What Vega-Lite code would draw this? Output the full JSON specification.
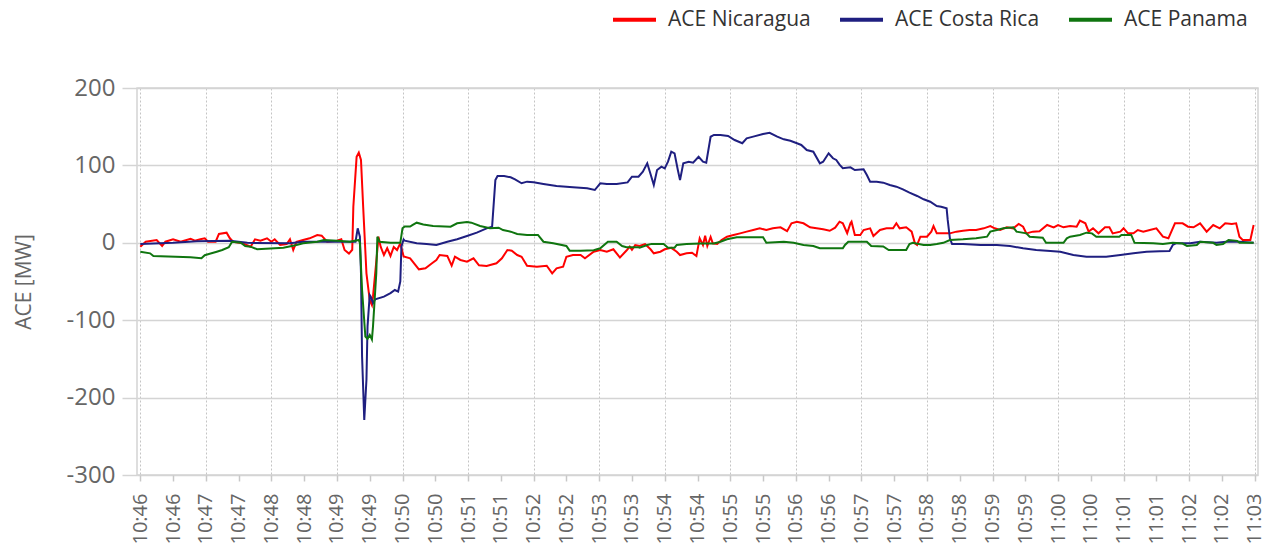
{
  "$schema": "https://vega.github.io/schema/vega-lite/v6.json",
  "width": 1121,
  "height": 387,
  "autosize": "none",
  "padding": {"left": 137, "top": 88, "right": 13, "bottom": 75},
  "background": "white",
  "config": {
    "font": "Open Sans",
    "view": {"stroke": "#d4d4d4", "strokeWidth": 1.5}
  },
  "datasets": {
    "nic": [
      {"t":"2024-01-01T10:46:00","v":-5},{"t":"2024-01-01T10:46:05","v":1.4},{"t":"2024-01-01T10:46:15","v":3.6},{"t":"2024-01-01T10:46:20","v":-4.1},{"t":"2024-01-01T10:46:23","v":1.4},{"t":"2024-01-01T10:46:30","v":4.5},{"t":"2024-01-01T10:46:37","v":1.4},{"t":"2024-01-01T10:46:46","v":5.3},{"t":"2024-01-01T10:46:50","v":2.7},{"t":"2024-01-01T10:46:55","v":4.5},{"t":"2024-01-01T10:46:59","v":5.8},
      {"t":"2024-01-01T10:47:02","v":1.4},{"t":"2024-01-01T10:47:09","v":1.4},{"t":"2024-01-01T10:47:12","v":11.4},{"t":"2024-01-01T10:47:19","v":13.1},{"t":"2024-01-01T10:47:22","v":5.8},{"t":"2024-01-01T10:47:25","v":1.4},{"t":"2024-01-01T10:47:34","v":-0.7},{"t":"2024-01-01T10:47:41","v":-5},{"t":"2024-01-01T10:47:45","v":4.5},{"t":"2024-01-01T10:47:50","v":2.7},{"t":"2024-01-01T10:47:56","v":5.8},
      {"t":"2024-01-01T10:48:00","v":1.4},{"t":"2024-01-01T10:48:03","v":4.5},{"t":"2024-01-01T10:48:08","v":-2.8},{"t":"2024-01-01T10:48:14","v":-1.6},{"t":"2024-01-01T10:48:17","v":4.5},{"t":"2024-01-01T10:48:20","v":-9.3},{"t":"2024-01-01T10:48:23","v":1.4},{"t":"2024-01-01T10:48:29","v":3.6},{"t":"2024-01-01T10:48:35","v":5.8},{"t":"2024-01-01T10:48:42","v":10.1},{"t":"2024-01-01T10:48:46","v":9.2},{"t":"2024-01-01T10:48:51","v":1.4},
      {"t":"2024-01-01T10:49:00","v":2.7},{"t":"2024-01-01T10:49:04","v":4.5},{"t":"2024-01-01T10:49:07","v":-9.3},{"t":"2024-01-01T10:49:11","v":-14},{"t":"2024-01-01T10:49:14","v":-9},{"t":"2024-01-01T10:49:15","v":46.6},{"t":"2024-01-01T10:49:18","v":111},{"t":"2024-01-01T10:49:20","v":116.4},{"t":"2024-01-01T10:49:22","v":107},{"t":"2024-01-01T10:49:24","v":46.6},{"t":"2024-01-01T10:49:27","v":-39.4},{"t":"2024-01-01T10:49:30","v":-73.9},{"t":"2024-01-01T10:49:32","v":-80.4},{"t":"2024-01-01T10:49:33","v":-69.6},{"t":"2024-01-01T10:49:37","v":-9},{"t":"2024-01-01T10:49:38","v":7.9},{"t":"2024-01-01T10:49:40","v":-5},{"t":"2024-01-01T10:49:43","v":-15.8},{"t":"2024-01-01T10:49:46","v":-7},{"t":"2024-01-01T10:49:49","v":-17},{"t":"2024-01-01T10:49:52","v":-5.4},{"t":"2024-01-01T10:49:55","v":-9.3},{"t":"2024-01-01T10:49:58","v":-0.7},
      {"t":"2024-01-01T10:50:01","v":-17.5},{"t":"2024-01-01T10:50:07","v":-20},{"t":"2024-01-01T10:50:15","v":-34.3},{"t":"2024-01-01T10:50:21","v":-33},{"t":"2024-01-01T10:50:27","v":-26.5},{"t":"2024-01-01T10:50:31","v":-22.2},{"t":"2024-01-01T10:50:34","v":-15.8},{"t":"2024-01-01T10:50:41","v":-17},{"t":"2024-01-01T10:50:45","v":-29.6},{"t":"2024-01-01T10:50:48","v":-18},{"t":"2024-01-01T10:50:53","v":-22.2},{"t":"2024-01-01T10:50:59","v":-24.4},
      {"t":"2024-01-01T10:51:05","v":-20},{"t":"2024-01-01T10:51:10","v":-29},{"t":"2024-01-01T10:51:17","v":-30},{"t":"2024-01-01T10:51:26","v":-26.5},{"t":"2024-01-01T10:51:31","v":-20},{"t":"2024-01-01T10:51:36","v":-9.3},{"t":"2024-01-01T10:51:40","v":-10.2},{"t":"2024-01-01T10:51:45","v":-15.8},{"t":"2024-01-01T10:51:49","v":-18},{"t":"2024-01-01T10:51:54","v":-29.6},
      {"t":"2024-01-01T10:52:03","v":-30.9},{"t":"2024-01-01T10:52:12","v":-29.6},{"t":"2024-01-01T10:52:17","v":-39.4},{"t":"2024-01-01T10:52:21","v":-33},{"t":"2024-01-01T10:52:27","v":-30.9},{"t":"2024-01-01T10:52:30","v":-18},{"t":"2024-01-01T10:52:36","v":-15.8},{"t":"2024-01-01T10:52:43","v":-15.8},{"t":"2024-01-01T10:52:47","v":-20},{"t":"2024-01-01T10:52:55","v":-11.5},
      {"t":"2024-01-01T10:53:01","v":-9.3},{"t":"2024-01-01T10:53:07","v":-11.5},{"t":"2024-01-01T10:53:13","v":-8.4},{"t":"2024-01-01T10:53:19","v":-19},{"t":"2024-01-01T10:53:25","v":-10},{"t":"2024-01-01T10:53:28","v":-5},{"t":"2024-01-01T10:53:30","v":-9},{"t":"2024-01-01T10:53:33","v":-3},{"t":"2024-01-01T10:53:37","v":-4},{"t":"2024-01-01T10:53:42","v":-1.6},{"t":"2024-01-01T10:53:47","v":-8.4},{"t":"2024-01-01T10:53:50","v":-13.6},{"t":"2024-01-01T10:53:56","v":-11.5},
      {"t":"2024-01-01T10:54:00","v":-8.4},{"t":"2024-01-01T10:54:06","v":-6.5},{"t":"2024-01-01T10:54:11","v":-11.5},{"t":"2024-01-01T10:54:14","v":-15.8},{"t":"2024-01-01T10:54:20","v":-13.6},{"t":"2024-01-01T10:54:25","v":-12.9},{"t":"2024-01-01T10:54:29","v":-17},{"t":"2024-01-01T10:54:32","v":5.8},{"t":"2024-01-01T10:54:35","v":-2.8},{"t":"2024-01-01T10:54:37","v":9.2},{"t":"2024-01-01T10:54:39","v":-4.1},{"t":"2024-01-01T10:54:42","v":7.5},{"t":"2024-01-01T10:54:44","v":-0.7},{"t":"2024-01-01T10:54:48","v":-1.6},{"t":"2024-01-01T10:54:52","v":3.6},{"t":"2024-01-01T10:54:57","v":7.9},
      {"t":"2024-01-01T10:55:03","v":10},{"t":"2024-01-01T10:55:09","v":12.2},{"t":"2024-01-01T10:55:15","v":14.4},{"t":"2024-01-01T10:55:21","v":16.5},{"t":"2024-01-01T10:55:27","v":18.7},{"t":"2024-01-01T10:55:33","v":16.5},{"t":"2024-01-01T10:55:39","v":18.7},{"t":"2024-01-01T10:55:46","v":20},{"t":"2024-01-01T10:55:52","v":15},{"t":"2024-01-01T10:55:56","v":25.2},
      {"t":"2024-01-01T10:56:01","v":27.3},{"t":"2024-01-01T10:56:07","v":25.2},{"t":"2024-01-01T10:56:13","v":20},{"t":"2024-01-01T10:56:19","v":18.7},{"t":"2024-01-01T10:56:25","v":17.4},{"t":"2024-01-01T10:56:31","v":15.5},{"t":"2024-01-01T10:56:36","v":19.5},{"t":"2024-01-01T10:56:40","v":27.3},{"t":"2024-01-01T10:56:43","v":25.2},{"t":"2024-01-01T10:56:47","v":12.5},{"t":"2024-01-01T10:56:50","v":25.2},{"t":"2024-01-01T10:56:51","v":27.3},{"t":"2024-01-01T10:56:54","v":10.1},{"t":"2024-01-01T10:56:59","v":10.1},
      {"t":"2024-01-01T10:57:02","v":16.5},{"t":"2024-01-01T10:57:08","v":18.7},{"t":"2024-01-01T10:57:11","v":8.8},{"t":"2024-01-01T10:57:17","v":16.5},{"t":"2024-01-01T10:57:23","v":18.7},{"t":"2024-01-01T10:57:29","v":18.7},{"t":"2024-01-01T10:57:32","v":25.2},{"t":"2024-01-01T10:57:35","v":18.7},{"t":"2024-01-01T10:57:41","v":20},{"t":"2024-01-01T10:57:46","v":14.4},{"t":"2024-01-01T10:57:49","v":-0.7},{"t":"2024-01-01T10:57:51","v":-2.8},{"t":"2024-01-01T10:57:54","v":7.9},
      {"t":"2024-01-01T10:58:00","v":7.9},{"t":"2024-01-01T10:58:04","v":14.4},{"t":"2024-01-01T10:58:06","v":21.7},{"t":"2024-01-01T10:58:09","v":12.2},{"t":"2024-01-01T10:58:15","v":12.2},{"t":"2024-01-01T10:58:21","v":12.2},{"t":"2024-01-01T10:58:27","v":14.4},{"t":"2024-01-01T10:58:33","v":15.6},{"t":"2024-01-01T10:58:39","v":16.5},{"t":"2024-01-01T10:58:45","v":16.5},{"t":"2024-01-01T10:58:52","v":18.7},{"t":"2024-01-01T10:58:58","v":21.7},
      {"t":"2024-01-01T10:59:02","v":18.7},{"t":"2024-01-01T10:59:07","v":16.5},{"t":"2024-01-01T10:59:13","v":20},{"t":"2024-01-01T10:59:19","v":18.7},{"t":"2024-01-01T10:59:24","v":24.3},{"t":"2024-01-01T10:59:28","v":20.8},{"t":"2024-01-01T10:59:31","v":12.2},{"t":"2024-01-01T10:59:37","v":14.4},{"t":"2024-01-01T10:59:43","v":15},{"t":"2024-01-01T10:59:50","v":23},{"t":"2024-01-01T10:59:56","v":20},
      {"t":"2024-01-01T11:00:00","v":23},{"t":"2024-01-01T11:00:05","v":20},{"t":"2024-01-01T11:00:11","v":21.7},{"t":"2024-01-01T11:00:17","v":20.8},{"t":"2024-01-01T11:00:20","v":28.6},{"t":"2024-01-01T11:00:25","v":25.2},{"t":"2024-01-01T11:00:28","v":14.4},{"t":"2024-01-01T11:00:32","v":18.7},{"t":"2024-01-01T11:00:37","v":12.2},{"t":"2024-01-01T11:00:43","v":20},{"t":"2024-01-01T11:00:47","v":20},{"t":"2024-01-01T11:00:50","v":12.2},{"t":"2024-01-01T11:00:57","v":14.4},
      {"t":"2024-01-01T11:01:00","v":18.7},{"t":"2024-01-01T11:01:04","v":12.2},{"t":"2024-01-01T11:01:09","v":12.2},{"t":"2024-01-01T11:01:13","v":16.5},{"t":"2024-01-01T11:01:18","v":14.4},{"t":"2024-01-01T11:01:24","v":16.5},{"t":"2024-01-01T11:01:30","v":18.7},{"t":"2024-01-01T11:01:36","v":7.9},{"t":"2024-01-01T11:01:41","v":5.8},{"t":"2024-01-01T11:01:47","v":25.2},{"t":"2024-01-01T11:01:54","v":25.2},{"t":"2024-01-01T11:01:59","v":20.8},
      {"t":"2024-01-01T11:02:04","v":20},{"t":"2024-01-01T11:02:10","v":25.2},{"t":"2024-01-01T11:02:16","v":14.4},{"t":"2024-01-01T11:02:22","v":23},{"t":"2024-01-01T11:02:28","v":18.7},{"t":"2024-01-01T11:02:33","v":25.2},{"t":"2024-01-01T11:02:39","v":24.3},{"t":"2024-01-01T11:02:43","v":25.2},{"t":"2024-01-01T11:02:46","v":7.9},{"t":"2024-01-01T11:02:49","v":3.6},{"t":"2024-01-01T11:02:56","v":3.6},{"t":"2024-01-01T11:02:59","v":23}
    ],
    "cr": [
      {"t":"2024-01-01T10:46:00","v":-1.6},{"t":"2024-01-01T10:46:30","v":0},{"t":"2024-01-01T10:46:52","v":2},{"t":"2024-01-01T10:47:22","v":2.7},{"t":"2024-01-01T10:47:38","v":0},{"t":"2024-01-01T10:48:17","v":-0.7},{"t":"2024-01-01T10:48:29","v":1.4},{"t":"2024-01-01T10:48:53","v":1.4},{"t":"2024-01-01T10:49:12","v":1.4},{"t":"2024-01-01T10:49:17","v":1.4},{"t":"2024-01-01T10:49:19","v":18.7},{"t":"2024-01-01T10:49:21","v":7.9},{"t":"2024-01-01T10:49:22","v":-39.5},{"t":"2024-01-01T10:49:23","v":-147},{"t":"2024-01-01T10:49:25","v":-229},{"t":"2024-01-01T10:49:27","v":-177},{"t":"2024-01-01T10:49:28","v":-108},{"t":"2024-01-01T10:49:30","v":-67.4},{"t":"2024-01-01T10:49:31","v":-69.6},{"t":"2024-01-01T10:49:33","v":-78},{"t":"2024-01-01T10:49:35","v":-73},{"t":"2024-01-01T10:49:43","v":-69.6},{"t":"2024-01-01T10:49:49","v":-65},{"t":"2024-01-01T10:49:53","v":-61},{"t":"2024-01-01T10:49:56","v":-63},{"t":"2024-01-01T10:49:58","v":-50},{"t":"2024-01-01T10:49:59","v":-5},
      {"t":"2024-01-01T10:50:01","v":4.3},{"t":"2024-01-01T10:50:02","v":2.7},{"t":"2024-01-01T10:50:13","v":-0.7},{"t":"2024-01-01T10:50:22","v":-1.6},{"t":"2024-01-01T10:50:31","v":-2.8},{"t":"2024-01-01T10:50:41","v":1.4},{"t":"2024-01-01T10:50:50","v":4.5},{"t":"2024-01-01T10:50:59","v":8.8},{"t":"2024-01-01T10:51:08","v":13.1},{"t":"2024-01-01T10:51:17","v":18.7},{"t":"2024-01-01T10:51:22","v":20.8},{"t":"2024-01-01T10:51:25","v":81},{"t":"2024-01-01T10:51:27","v":86.3},{"t":"2024-01-01T10:51:33","v":86.3},{"t":"2024-01-01T10:51:39","v":84.6},{"t":"2024-01-01T10:51:43","v":82},{"t":"2024-01-01T10:51:49","v":76.9},{"t":"2024-01-01T10:51:54","v":79},
      {"t":"2024-01-01T10:52:00","v":78.1},{"t":"2024-01-01T10:52:09","v":76},{"t":"2024-01-01T10:52:21","v":73.4},{"t":"2024-01-01T10:52:36","v":71.7},{"t":"2024-01-01T10:52:49","v":70.4},{"t":"2024-01-01T10:52:56","v":68.2},{"t":"2024-01-01T10:53:01","v":76.9},{"t":"2024-01-01T10:53:07","v":76},{"t":"2024-01-01T10:53:16","v":76},{"t":"2024-01-01T10:53:26","v":78},{"t":"2024-01-01T10:53:30","v":85.4},{"t":"2024-01-01T10:53:36","v":85.4},{"t":"2024-01-01T10:53:40","v":91.9},{"t":"2024-01-01T10:53:44","v":102.7},{"t":"2024-01-01T10:53:47","v":88.8},{"t":"2024-01-01T10:53:50","v":74.7},{"t":"2024-01-01T10:53:53","v":94},{"t":"2024-01-01T10:53:57","v":98.3},
      {"t":"2024-01-01T10:54:00","v":96.2},{"t":"2024-01-01T10:54:03","v":104.8},{"t":"2024-01-01T10:54:06","v":117.7},{"t":"2024-01-01T10:54:09","v":115.6},{"t":"2024-01-01T10:54:12","v":94},{"t":"2024-01-01T10:54:14","v":81},{"t":"2024-01-01T10:54:17","v":102.7},{"t":"2024-01-01T10:54:22","v":104.8},{"t":"2024-01-01T10:54:26","v":103.5},{"t":"2024-01-01T10:54:31","v":111.2},{"t":"2024-01-01T10:54:35","v":104.8},{"t":"2024-01-01T10:54:38","v":103.5},{"t":"2024-01-01T10:54:42","v":137},{"t":"2024-01-01T10:54:45","v":139.3},{"t":"2024-01-01T10:54:51","v":139.3},{"t":"2024-01-01T10:54:58","v":138},
      {"t":"2024-01-01T10:55:04","v":132.8},{"t":"2024-01-01T10:55:11","v":128.6},{"t":"2024-01-01T10:55:15","v":135},{"t":"2024-01-01T10:55:21","v":137.2},{"t":"2024-01-01T10:55:30","v":140.6},{"t":"2024-01-01T10:55:36","v":142.2},{"t":"2024-01-01T10:55:43","v":137.2},{"t":"2024-01-01T10:55:49","v":133.7},{"t":"2024-01-01T10:55:55","v":131.9},
      {"t":"2024-01-01T10:56:01","v":128.6},{"t":"2024-01-01T10:56:05","v":126.4},{"t":"2024-01-01T10:56:10","v":119.9},{"t":"2024-01-01T10:56:16","v":117.7},{"t":"2024-01-01T10:56:22","v":102.7},{"t":"2024-01-01T10:56:25","v":104.8},{"t":"2024-01-01T10:56:30","v":115.6},{"t":"2024-01-01T10:56:34","v":109.2},{"t":"2024-01-01T10:56:37","v":107},{"t":"2024-01-01T10:56:40","v":101},{"t":"2024-01-01T10:56:43","v":96.3},{"t":"2024-01-01T10:56:50","v":97.5},{"t":"2024-01-01T10:56:54","v":94},
      {"t":"2024-01-01T10:57:02","v":94.9},{"t":"2024-01-01T10:57:05","v":87.6},{"t":"2024-01-01T10:57:08","v":79},{"t":"2024-01-01T10:57:14","v":79},{"t":"2024-01-01T10:57:20","v":77.7},{"t":"2024-01-01T10:57:26","v":74.7},{"t":"2024-01-01T10:57:32","v":72.5},{"t":"2024-01-01T10:57:38","v":69.1},{"t":"2024-01-01T10:57:44","v":64.8},{"t":"2024-01-01T10:57:51","v":60.5},{"t":"2024-01-01T10:57:57","v":56.2},
      {"t":"2024-01-01T10:58:03","v":53.1},{"t":"2024-01-01T10:58:09","v":47.5},{"t":"2024-01-01T10:58:13","v":46.6},{"t":"2024-01-01T10:58:18","v":44.5},{"t":"2024-01-01T10:58:19","v":29.5},{"t":"2024-01-01T10:58:21","v":5.8},{"t":"2024-01-01T10:58:23","v":-1.6},{"t":"2024-01-01T10:58:33","v":-1.6},{"t":"2024-01-01T10:58:49","v":-2.8},
      {"t":"2024-01-01T10:59:04","v":-2.8},{"t":"2024-01-01T10:59:16","v":-4.1},{"t":"2024-01-01T10:59:28","v":-7.1},{"t":"2024-01-01T10:59:40","v":-9.3},{"t":"2024-01-01T10:59:53","v":-10.6},
      {"t":"2024-01-01T11:00:02","v":-11.5},{"t":"2024-01-01T11:00:14","v":-15.8},{"t":"2024-01-01T11:00:26","v":-18},{"t":"2024-01-01T11:00:44","v":-18},{"t":"2024-01-01T11:00:57","v":-15.8},
      {"t":"2024-01-01T11:01:09","v":-13.6},{"t":"2024-01-01T11:01:21","v":-11.5},{"t":"2024-01-01T11:01:33","v":-11},{"t":"2024-01-01T11:01:42","v":-10.6},{"t":"2024-01-01T11:01:45","v":-2.8},{"t":"2024-01-01T11:01:48","v":-0.7},
      {"t":"2024-01-01T11:02:01","v":-0.7},{"t":"2024-01-01T11:02:10","v":1.4},{"t":"2024-01-01T11:02:25","v":0},{"t":"2024-01-01T11:02:34","v":1.4},{"t":"2024-01-01T11:02:46","v":1.4},{"t":"2024-01-01T11:02:59","v":0}
    ],
    "pa": [
      {"t":"2024-01-01T10:46:00","v":-11.5},{"t":"2024-01-01T10:46:09","v":-13.6},{"t":"2024-01-01T10:46:12","v":-17},{"t":"2024-01-01T10:46:46","v":-18.8},{"t":"2024-01-01T10:46:56","v":-20},{"t":"2024-01-01T10:46:59","v":-16},
      {"t":"2024-01-01T10:47:10","v":-11.5},{"t":"2024-01-01T10:47:15","v":-9.3},{"t":"2024-01-01T10:47:21","v":-5.8},{"t":"2024-01-01T10:47:24","v":1.4},{"t":"2024-01-01T10:47:32","v":0},{"t":"2024-01-01T10:47:36","v":-4.1},{"t":"2024-01-01T10:47:41","v":-5},{"t":"2024-01-01T10:47:47","v":-8.4},{"t":"2024-01-01T10:47:59","v":-7.5},
      {"t":"2024-01-01T10:48:11","v":-6.3},{"t":"2024-01-01T10:48:23","v":-2.8},{"t":"2024-01-01T10:48:29","v":-0.7},{"t":"2024-01-01T10:48:42","v":1.4},{"t":"2024-01-01T10:48:48","v":3.6},
      {"t":"2024-01-01T10:49:00","v":2.5},{"t":"2024-01-01T10:49:12","v":1.4},{"t":"2024-01-01T10:49:20","v":3.6},{"t":"2024-01-01T10:49:21","v":0},{"t":"2024-01-01T10:49:23","v":-61},{"t":"2024-01-01T10:49:26","v":-121},{"t":"2024-01-01T10:49:28","v":-124},{"t":"2024-01-01T10:49:30","v":-119},{"t":"2024-01-01T10:49:32","v":-125},{"t":"2024-01-01T10:49:33","v":-108},{"t":"2024-01-01T10:49:36","v":-39.5},{"t":"2024-01-01T10:49:37","v":7.9},{"t":"2024-01-01T10:49:39","v":1.4},{"t":"2024-01-01T10:49:49","v":0},{"t":"2024-01-01T10:49:58","v":0},
      {"t":"2024-01-01T10:50:00","v":18.7},{"t":"2024-01-01T10:50:02","v":21.2},{"t":"2024-01-01T10:50:07","v":21},{"t":"2024-01-01T10:50:09","v":22.8},{"t":"2024-01-01T10:50:13","v":26},{"t":"2024-01-01T10:50:19","v":23.7},{"t":"2024-01-01T10:50:28","v":21.7},{"t":"2024-01-01T10:50:44","v":20.8},{"t":"2024-01-01T10:50:50","v":25.2},{"t":"2024-01-01T10:50:59","v":26.9},
      {"t":"2024-01-01T10:51:03","v":26},{"t":"2024-01-01T10:51:11","v":21.7},{"t":"2024-01-01T10:51:20","v":18.7},{"t":"2024-01-01T10:51:28","v":19.5},{"t":"2024-01-01T10:51:32","v":16.5},{"t":"2024-01-01T10:51:39","v":14.4},{"t":"2024-01-01T10:51:45","v":11.4},{"t":"2024-01-01T10:51:54","v":10.1},
      {"t":"2024-01-01T10:52:04","v":10.1},{"t":"2024-01-01T10:52:09","v":1.4},{"t":"2024-01-01T10:52:18","v":-0.7},{"t":"2024-01-01T10:52:30","v":-4.1},{"t":"2024-01-01T10:52:33","v":-10.2},{"t":"2024-01-01T10:52:43","v":-10.2},{"t":"2024-01-01T10:52:55","v":-9.5},
      {"t":"2024-01-01T10:53:01","v":-7.1},{"t":"2024-01-01T10:53:08","v":1.4},{"t":"2024-01-01T10:53:16","v":1.4},{"t":"2024-01-01T10:53:21","v":-4.1},{"t":"2024-01-01T10:53:25","v":-5.8},{"t":"2024-01-01T10:53:36","v":-5.8},{"t":"2024-01-01T10:53:37","v":-6.3},{"t":"2024-01-01T10:53:44","v":-2.8},{"t":"2024-01-01T10:53:48","v":-1.4},{"t":"2024-01-01T10:53:59","v":-1.6},
      {"t":"2024-01-01T10:54:03","v":-6.3},{"t":"2024-01-01T10:54:09","v":-6.3},{"t":"2024-01-01T10:54:11","v":-2.8},{"t":"2024-01-01T10:54:20","v":-1.6},{"t":"2024-01-01T10:54:33","v":-1},{"t":"2024-01-01T10:54:45","v":-1},{"t":"2024-01-01T10:54:51","v":1.4},{"t":"2024-01-01T10:54:57","v":4.5},
      {"t":"2024-01-01T10:55:06","v":7.1},{"t":"2024-01-01T10:55:30","v":7.1},{"t":"2024-01-01T10:55:33","v":0},{"t":"2024-01-01T10:55:49","v":1.4},{"t":"2024-01-01T10:55:58","v":0},
      {"t":"2024-01-01T10:56:07","v":-2.8},{"t":"2024-01-01T10:56:16","v":-4.1},{"t":"2024-01-01T10:56:22","v":-7.1},{"t":"2024-01-01T10:56:43","v":-7.1},{"t":"2024-01-01T10:56:45","v":-2.8},{"t":"2024-01-01T10:56:48","v":1.4},
      {"t":"2024-01-01T10:57:05","v":1.4},{"t":"2024-01-01T10:57:09","v":-4.1},{"t":"2024-01-01T10:57:20","v":-4.8},{"t":"2024-01-01T10:57:25","v":-9.3},{"t":"2024-01-01T10:57:41","v":-9.3},{"t":"2024-01-01T10:57:44","v":-1.6},{"t":"2024-01-01T10:57:47","v":0},{"t":"2024-01-01T10:57:57","v":-2.8},
      {"t":"2024-01-01T10:58:03","v":-2.8},{"t":"2024-01-01T10:58:09","v":-1.6},{"t":"2024-01-01T10:58:15","v":0},{"t":"2024-01-01T10:58:21","v":3.6},{"t":"2024-01-01T10:58:33","v":4.5},{"t":"2024-01-01T10:58:45","v":5.8},{"t":"2024-01-01T10:58:55","v":7.9},{"t":"2024-01-01T10:58:58","v":14.4},
      {"t":"2024-01-01T10:59:04","v":16.5},{"t":"2024-01-01T10:59:10","v":18.7},{"t":"2024-01-01T10:59:19","v":20},{"t":"2024-01-01T10:59:22","v":14.4},{"t":"2024-01-01T10:59:31","v":12.2},{"t":"2024-01-01T10:59:34","v":7.9},{"t":"2024-01-01T10:59:46","v":6.5},{"t":"2024-01-01T10:59:49","v":0},
      {"t":"2024-01-01T11:00:05","v":0},{"t":"2024-01-01T11:00:08","v":5.8},{"t":"2024-01-01T11:00:11","v":7.9},{"t":"2024-01-01T11:00:20","v":10.1},{"t":"2024-01-01T11:00:26","v":13.1},{"t":"2024-01-01T11:00:31","v":12.2},{"t":"2024-01-01T11:00:35","v":7.9},{"t":"2024-01-01T11:00:56","v":7.9},{"t":"2024-01-01T11:00:58","v":10.1},
      {"t":"2024-01-01T11:01:07","v":10.1},{"t":"2024-01-01T11:01:10","v":0},{"t":"2024-01-01T11:01:27","v":-0.7},{"t":"2024-01-01T11:01:36","v":-1.6},{"t":"2024-01-01T11:01:45","v":0},{"t":"2024-01-01T11:01:54","v":-1},{"t":"2024-01-01T11:01:58","v":-4.1},
      {"t":"2024-01-01T11:02:07","v":-2.8},{"t":"2024-01-01T11:02:10","v":1.4},{"t":"2024-01-01T11:02:22","v":0},{"t":"2024-01-01T11:02:25","v":-2.8},{"t":"2024-01-01T11:02:31","v":-1.6},{"t":"2024-01-01T11:02:36","v":3.6},{"t":"2024-01-01T11:02:44","v":2.5},{"t":"2024-01-01T11:02:46","v":0},{"t":"2024-01-01T11:02:59","v":0}
    ]
  },
  "encoding": {
    "x": {
      "field": "t",
      "type": "temporal",
      "scale": {
        "domain": [
          {"year": 2024, "month": 1, "date": 1, "hours": 10, "minutes": 45, "seconds": 57},
          {"year": 2024, "month": 1, "date": 1, "hours": 11, "minutes": 3, "seconds": 3}
        ],
        "nice": false
      },
      "axis": {
        "title": null,
        "format": "%H:%M",
        "values": [
          {"year":2024,"month":1,"date":1,"hours":10,"minutes":46,"seconds":0},{"year":2024,"month":1,"date":1,"hours":10,"minutes":46,"seconds":30},
          {"year":2024,"month":1,"date":1,"hours":10,"minutes":47,"seconds":0},{"year":2024,"month":1,"date":1,"hours":10,"minutes":47,"seconds":30},
          {"year":2024,"month":1,"date":1,"hours":10,"minutes":48,"seconds":0},{"year":2024,"month":1,"date":1,"hours":10,"minutes":48,"seconds":30},
          {"year":2024,"month":1,"date":1,"hours":10,"minutes":49,"seconds":0},{"year":2024,"month":1,"date":1,"hours":10,"minutes":49,"seconds":30},
          {"year":2024,"month":1,"date":1,"hours":10,"minutes":50,"seconds":0},{"year":2024,"month":1,"date":1,"hours":10,"minutes":50,"seconds":30},
          {"year":2024,"month":1,"date":1,"hours":10,"minutes":51,"seconds":0},{"year":2024,"month":1,"date":1,"hours":10,"minutes":51,"seconds":30},
          {"year":2024,"month":1,"date":1,"hours":10,"minutes":52,"seconds":0},{"year":2024,"month":1,"date":1,"hours":10,"minutes":52,"seconds":30},
          {"year":2024,"month":1,"date":1,"hours":10,"minutes":53,"seconds":0},{"year":2024,"month":1,"date":1,"hours":10,"minutes":53,"seconds":30},
          {"year":2024,"month":1,"date":1,"hours":10,"minutes":54,"seconds":0},{"year":2024,"month":1,"date":1,"hours":10,"minutes":54,"seconds":30},
          {"year":2024,"month":1,"date":1,"hours":10,"minutes":55,"seconds":0},{"year":2024,"month":1,"date":1,"hours":10,"minutes":55,"seconds":30},
          {"year":2024,"month":1,"date":1,"hours":10,"minutes":56,"seconds":0},{"year":2024,"month":1,"date":1,"hours":10,"minutes":56,"seconds":30},
          {"year":2024,"month":1,"date":1,"hours":10,"minutes":57,"seconds":0},{"year":2024,"month":1,"date":1,"hours":10,"minutes":57,"seconds":30},
          {"year":2024,"month":1,"date":1,"hours":10,"minutes":58,"seconds":0},{"year":2024,"month":1,"date":1,"hours":10,"minutes":58,"seconds":30},
          {"year":2024,"month":1,"date":1,"hours":10,"minutes":59,"seconds":0},{"year":2024,"month":1,"date":1,"hours":10,"minutes":59,"seconds":30},
          {"year":2024,"month":1,"date":1,"hours":11,"minutes":0,"seconds":0},{"year":2024,"month":1,"date":1,"hours":11,"minutes":0,"seconds":30},
          {"year":2024,"month":1,"date":1,"hours":11,"minutes":1,"seconds":0},{"year":2024,"month":1,"date":1,"hours":11,"minutes":1,"seconds":30},
          {"year":2024,"month":1,"date":1,"hours":11,"minutes":2,"seconds":0},{"year":2024,"month":1,"date":1,"hours":11,"minutes":2,"seconds":30},
          {"year":2024,"month":1,"date":1,"hours":11,"minutes":3,"seconds":0}
        ],
        "labelAngle": -90,
        "labelFontSize": 20,
        "labelColor": "#666666",
        "labelPadding": 12,
        "labelOverlap": false,
        "labelFlush": false,
        "labelBound": false,
        "tickSize": 6,
        "tickColor": "#c8c8c8",
        "tickWidth": 1.5,
        "domain": false,
        "grid": true,
        "gridColor": "#c4c4c4",
        "gridDash": [2, 2],
        "gridWidth": 1,
        "gridOpacity": {"condition": {"test": "seconds(datum.value) == 0", "value": 1}, "value": 0}
      }
    },
    "y": {
      "field": "v",
      "type": "quantitative",
      "scale": {"domain": [-300, 200], "nice": false},
      "axis": {
        "values": [-300, -200, -100, 0, 100, 200],
        "labelExpr": "'' + datum.value",
        "labelFontSize": 24,
        "labelColor": "#666666",
        "labelPadding": 7,
        "tickSize": 15,
        "tickColor": "#d4d4d4",
        "tickWidth": 1.5,
        "gridColor": "#d4d4d4",
        "gridWidth": 1.5,
        "domain": false,
        "title": "ACE [MW]",
        "titleFontSize": 21,
        "titleFontWeight": "normal",
        "titleColor": "#666666",
        "titlePadding": 32
      }
    }
  },
  "layer": [
    {
      "data": {"name": "nic"},
      "mark": {"type": "line", "strokeWidth": 2},
      "encoding": {
        "color": {
          "datum": "ACE Nicaragua",
          "scale": {"domain": ["ACE Nicaragua", "ACE Costa Rica", "ACE Panama"], "range": ["#ff0000", "#1f1f80", "#0f750f"]},
          "legend": {
            "title": null,
            "orient": "none",
            "direction": "horizontal",
            "legendX": 474,
            "legendY": -92,
            "symbolType": "stroke",
            "symbolSize": 1849,
            "symbolStrokeWidth": 4,
            "labelFontSize": 21,
            "labelColor": "#333333",
            "labelOffset": 10,
            "columnPadding": 21
          }
        }
      }
    },
    {
      "data": {"name": "cr"},
      "mark": {"type": "line", "strokeWidth": 2},
      "encoding": {"color": {"datum": "ACE Costa Rica"}}
    },
    {
      "data": {"name": "pa"},
      "mark": {"type": "line", "strokeWidth": 2},
      "encoding": {"color": {"datum": "ACE Panama"}}
    }
  ]
}
